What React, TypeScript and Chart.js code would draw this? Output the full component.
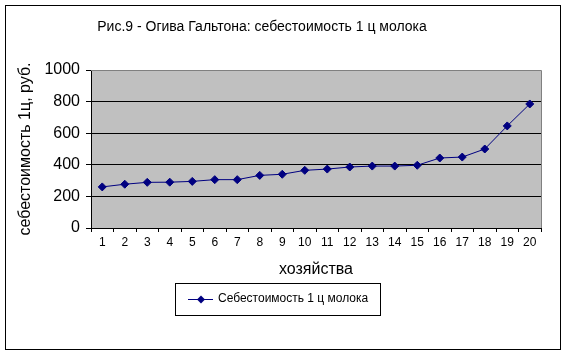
import React, { useEffect, useRef } from "react";
import { Chart, registerables } from "chart.js";

Chart.register(...registerables);

const categories = ["1","2","3","4","5","6","7","8","9","10","11","12","13","14","15","16","17","18","19","20"];
const costValues = [260, 277, 289, 290, 295, 306, 306, 333, 340, 365, 373, 386, 392, 392, 397, 443, 449, 500, 646, 785];
const yTickValues = [0, 200, 400, 600, 800, 1000];
const seriesLabel = "Себестоимость 1 ц молока";
const chartTitle = "Рис.9 - Огива Гальтона: себестоимость 1 ц молока";
const yTitle = "себестоимость 1ц, руб.";
const xTitle = "хозяйства";

const FONT = "'Liberation Sans', Arial, sans-serif";
const NAVY = "#000080";

const framePlugin = {
  id: "frame",
  beforeDraw(chart: any) {
    const { ctx, chartArea } = chart;
    ctx.save();
    ctx.fillStyle = "#ffffff";
    ctx.fillRect(0, 0, chart.width, chart.height);
    ctx.fillStyle = "#C0C0C0";
    ctx.fillRect(chartArea.left, chartArea.top, chartArea.right - chartArea.left, chartArea.bottom - chartArea.top);
    ctx.strokeStyle = "#000";
    ctx.lineWidth = 1;
    ctx.strokeRect(5.5, 5.5, 555, 344);
    ctx.restore();
  },
  afterDraw(chart: any) {
    const { ctx, chartArea } = chart;
    ctx.save();
    ctx.strokeStyle = "#808080";
    ctx.lineWidth = 1;
    ctx.beginPath();
    ctx.moveTo(chartArea.left, Math.round(chartArea.top) + 0.5);
    ctx.lineTo(Math.round(chartArea.right) + 0.5, Math.round(chartArea.top) + 0.5);
    ctx.lineTo(Math.round(chartArea.right) + 0.5, chartArea.bottom);
    ctx.stroke();
    ctx.fillStyle = "#000";
    ctx.font = "14px " + FONT;
    ctx.textAlign = "center";
    ctx.textBaseline = "middle";
    ctx.fillText(chartTitle, 262, 27);
    const ds = chart.data.datasets[0];
    ctx.strokeStyle = "#000";
    ctx.strokeRect(175.5, 283.5, 205, 32);
    ctx.strokeStyle = ds.borderColor;
    ctx.lineWidth = 1;
    ctx.beginPath();
    ctx.moveTo(188, 299.5);
    ctx.lineTo(213, 299.5);
    ctx.stroke();
    ctx.fillStyle = ds.backgroundColor;
    ctx.beginPath();
    ctx.moveTo(201, 295.5);
    ctx.lineTo(205, 299.5);
    ctx.lineTo(201, 303.5);
    ctx.lineTo(197, 299.5);
    ctx.closePath();
    ctx.fill();
    ctx.fillStyle = "#000";
    ctx.font = "12px " + FONT;
    ctx.textAlign = "left";
    ctx.fillText(ds.label, 218, 299);
    ctx.restore();
  },
};

export default function App() {
  const canvasRef = useRef<HTMLCanvasElement | null>(null);

  useEffect(() => {
    if (!canvasRef.current) return;
    Chart.defaults.color = "#000";
    const chart = new Chart(canvasRef.current, {
      type: "line",
      data: {
        labels: categories,
        datasets: [
          {
            label: seriesLabel,
            data: costValues,
            borderColor: NAVY,
            backgroundColor: NAVY,
            borderWidth: 1,
            pointStyle: "rectRot",
            pointRadius: 4,
            pointBorderWidth: 1,
            pointBackgroundColor: NAVY,
            pointBorderColor: NAVY,
            tension: 0,
          },
        ],
      },
      options: {
        animation: false,
        responsive: false,
        maintainAspectRatio: false,
        devicePixelRatio: 1,
        layout: { padding: { left: 0, right: 25, top: 70, bottom: 0 } },
        plugins: {
          legend: { display: false },
          title: { display: false },
          tooltip: { enabled: false },
        },
        scales: {
          x: {
            type: "category",
            offset: true,
            grid: {
              offset: true,
              drawOnChartArea: false,
              drawTicks: true,
              tickLength: 4,
              color: "#000",
            },
            border: { color: "#000", width: 1 },
            ticks: {
              font: { family: FONT, size: 12 },
              color: "#000",
              padding: 3,
              maxRotation: 0,
              autoSkip: false,
            },
            title: {
              display: true,
              text: xTitle,
              font: { family: FONT, size: 16 },
              color: "#000",
              padding: { top: 0, bottom: 76 },
            },
            afterFit(scale: any) {
              scale.height = 127;
            },
          },
          y: {
            min: yTickValues[0],
            max: yTickValues[yTickValues.length - 1],
            afterBuildTicks(scale: any) {
              scale.ticks = yTickValues.map((v) => ({ value: v }));
            },
            ticks: {
              font: { family: FONT, size: 16 },
              color: "#000",
              padding: 6,
              callback: (v: any) => String(v),
            },
            grid: {
              color: "#000",
              tickLength: 5,
              drawTicks: true,
            },
            border: { color: "#000", width: 1 },
            title: {
              display: true,
              text: yTitle,
              font: { family: FONT, size: 16 },
              color: "#000",
              padding: { top: 16, bottom: 0 },
            },
            afterFit(scale: any) {
              scale.width = 91;
            },
          },
        },
      },
      plugins: [framePlugin],
    });
    return () => chart.destroy();
  }, []);

  return (
    <div style={{ position: "absolute", left: 0, top: 0, width: 566, height: 355 }}>
      <canvas ref={canvasRef} width={566} height={355} style={{ width: 566, height: 355, display: "block" }} />
    </div>
  );
}
